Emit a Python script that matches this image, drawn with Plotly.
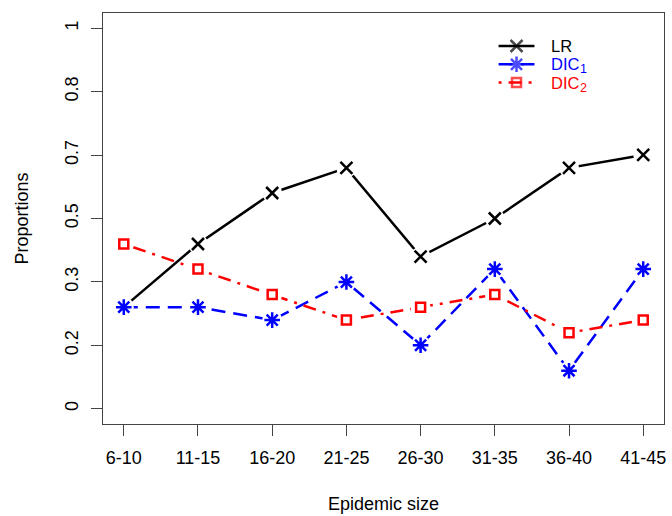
import plotly.graph_objects as go

categories = ["6-10", "11-15", "16-20", "21-25", "26-30", "31-35", "36-40", "41-45"]
lr = [0.267, 0.433, 0.567, 0.633, 0.400, 0.500, 0.633, 0.667]
dic1 = [0.267, 0.267, 0.233, 0.333, 0.167, 0.367, 0.100, 0.367]
dic2 = [0.433, 0.367, 0.300, 0.233, 0.267, 0.300, 0.200, 0.233]
ytick_vals = [0, 1/6, 2/6, 3/6, 4/6, 5/6, 1]
ytick_text = ["0", "0.2", "0.3", "0.5", "0.7", "0.8", "1"]

xpos = list(range(1, len(categories) + 1))
FONT = "Liberation Sans, Arial, sans-serif"

W, H = 672, 516
ML, MR, MT, MB = 103, 6, 13, 92

# (key, main label, subscript, values, colour, dash, symbol, size)
series = [
    ("LR", "LR", "", lr, "black", "solid", "x-thin", 12),
    ("DIC1", "DIC", "1", dic1, "blue", "14px,8px", "asterisk", 13),
    ("DIC2", "DIC", "2", dic2, "red", "3px,7px,13px,7px", "square-open", 9),
]

# legend layout (page pixels)
LEG_X0, LEG_X1, LEG_TEXT_X = 500, 536, 552
LEG_Y0, LEG_DY = 46, 18.3
LEG_FONT, SUB_FONT = 16.5, 12.5
SUB_DX, SUB_DY = 29, 5

fig = go.Figure()
for i, (key, label, sub, vals, col, dash, sym, size) in enumerate(series):
    fig.add_trace(go.Scatter(
        x=xpos, y=vals, mode="lines", name=key, showlegend=False,
        line=dict(color=col, width=2.5, dash=dash),
    ))
    # white discs to emulate R type="b" gaps around points
    fig.add_trace(go.Scatter(
        x=xpos, y=vals, mode="markers", showlegend=False, hoverinfo="skip",
        marker=dict(symbol="circle", size=20, color="white", line=dict(width=0)),
    ))
    fig.add_trace(go.Scatter(
        x=xpos, y=vals, mode="markers", showlegend=False, name=key,
        marker=dict(symbol=sym, size=size, color=col, line=dict(color=col, width=2.5)),
    ))
    # legend key on an overlay axis in page-pixel coordinates
    ly = LEG_Y0 + i * LEG_DY
    fig.add_trace(go.Scatter(
        x=[LEG_X0, (LEG_X0 + LEG_X1) / 2, LEG_X1], y=[ly, ly, ly],
        xaxis="x2", yaxis="y2", mode="lines+markers", showlegend=False, hoverinfo="skip",
        line=dict(color=col, width=2.5, dash=dash),
        marker=dict(symbol=sym, size=[0, size, 0], color=col, line=dict(color=col, width=2.5)),
    ))
    fig.add_annotation(
        x=LEG_TEXT_X, y=ly, xref="x2", yref="y2", xanchor="left", yanchor="middle",
        borderpad=0, text=label, showarrow=False,
        font=dict(family=FONT, size=LEG_FONT, color=col),
    )
    if sub:
        fig.add_annotation(
            x=LEG_TEXT_X + SUB_DX, y=ly + SUB_DY, xref="x2", yref="y2",
            xanchor="left", yanchor="middle", borderpad=0, text=sub, showarrow=False,
            font=dict(family=FONT, size=SUB_FONT, color=col),
        )

axis_common = dict(
    showgrid=False, zeroline=False, showline=True, linecolor="#444", linewidth=1,
    mirror=True, ticks="outside", ticklen=11, tickcolor="#444", tickwidth=1,
    tickfont=dict(family=FONT, size=18, color="black"),
)

fig.update_layout(
    width=W, height=H,
    margin=dict(l=ML, r=MR, t=MT, b=MB),
    paper_bgcolor="white", plot_bgcolor="white",
    font=dict(family=FONT, size=18, color="black"),
    xaxis=dict(
        range=[0.72, 8.28], tickmode="array", tickvals=xpos, ticktext=categories,
        title=dict(text="Epidemic size", font=dict(family=FONT, size=18), standoff=30),
        ticklabelstandoff=6,
        **axis_common,
    ),
    yaxis=dict(
        range=[-0.04, 1.04], tickmode="array", tickvals=ytick_vals, ticktext=ytick_text,
        tickangle=-90,
        title=dict(text="Proportions", font=dict(family=FONT, size=18), standoff=28),
        ticklabelstandoff=6,
        **axis_common,
    ),
    xaxis2=dict(overlaying="x", range=[ML, W - MR], visible=False, fixedrange=True),
    yaxis2=dict(overlaying="y", range=[H - MB, MT], visible=False, fixedrange=True),
    showlegend=False,
)

fig.write_html("out.html")
